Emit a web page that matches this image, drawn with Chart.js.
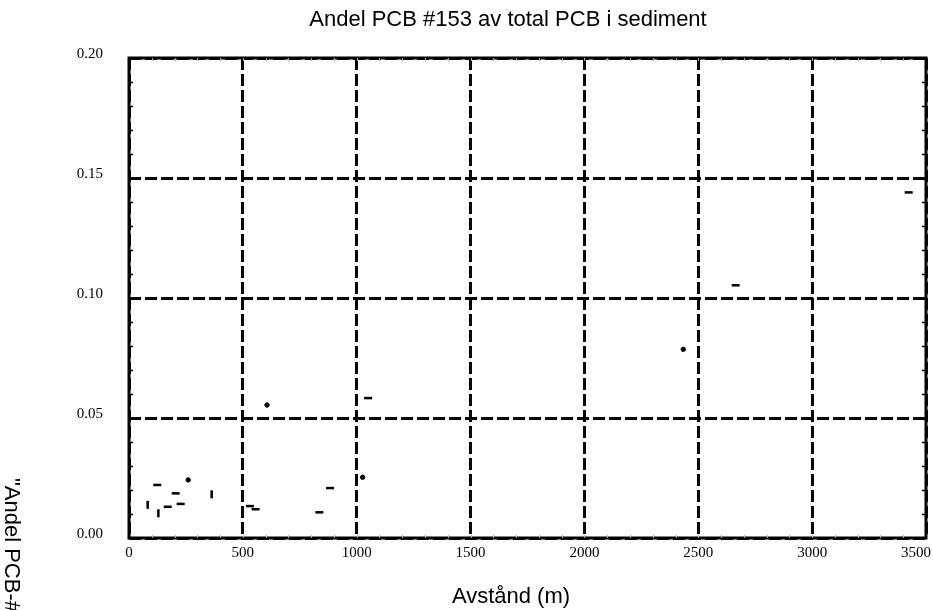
<!DOCTYPE html>
<html>
<head>
<meta charset="utf-8">
<script src="https://cdn.jsdelivr.net/npm/chart.js@4"></script>
<style>
  html, body { margin: 0; padding: 0; background: #fff; }
  #wrap { width: 933px; height: 610px; }
</style>
</head>
<body>
<div id="wrap"><canvas id="chart"></canvas></div>
<script>
// Data
const xTicks = [0, 500, 1000, 1500, 2000, 2500, 3000, 3500];
const yTicks = [0.00, 0.05, 0.10, 0.15, 0.20];

// horizontal dash markers
const dashX = [124, 170, 205, 227, 531, 556, 836, 883, 1050, 2664, 3424];
const dashY = [0.0221, 0.0130, 0.0186, 0.0142, 0.0133, 0.0120, 0.0107, 0.0208, 0.0583, 0.1053, 0.1440];

// vertical dash markers
const barX = [82, 129, 363];
const barY = [0.0138, 0.0103, 0.0182];

// dot markers
const dotX = [260, 606, 1026, 2434];
const dotY = [0.0242, 0.0554, 0.0253, 0.0786];

const title = "Andel PCB #153 av total PCB i sediment";
const xTitle = "Avstånd (m)";
const yTitle = "\"Andel PCB-#153 av total PCB";

const serif = "'Liberation Serif', 'Times New Roman', serif";
const sans = "'Liberation Sans', Arial, sans-serif";

function toPoints(xs, ys) {
  return xs.map((x, i) => ({ x: x, y: ys[i] }));
}

// ram, små skalstreck och texter
const framePlugin = {
  id: "frame",
  afterDatasetsDraw(chart) {
    const { ctx, chartArea: a, scales, width } = chart;
    ctx.save();
    ctx.strokeStyle = "#000";
    ctx.lineWidth = 3;
    ctx.setLineDash([]);
    ctx.strokeRect(a.left, a.top, a.right - a.left, a.bottom - a.top);

    // minor ticks on y (every 0.01)
    ctx.lineWidth = 1.5;
    for (let v = 0.01; v < 0.2; v += 0.01) {
      const y = Math.round(scales.y.getPixelForValue(v)) + 0.5;
      ctx.beginPath();
      ctx.moveTo(a.left, y); ctx.lineTo(a.left + 4, y);
      ctx.moveTo(a.right, y); ctx.lineTo(a.right - 4, y);
      ctx.stroke();
    }
    // minor ticks on x (every 100)
    ctx.strokeStyle = "#aaa";
    ctx.lineWidth = 1;
    for (let v = 100; v < 3500; v += 100) {
      const x = Math.round(scales.x.getPixelForValue(v)) + 0.5;
      ctx.beginPath();
      ctx.moveTo(x, a.top); ctx.lineTo(x, a.top + 3);
      ctx.moveTo(x, a.bottom); ctx.lineTo(x, a.bottom - 3);
      ctx.stroke();
    }

    // x-axelns etiketter, hålls inom bilden
    ctx.fillStyle = "#000";
    ctx.font = "15px " + serif;
    ctx.textAlign = "center";
    ctx.textBaseline = "middle";
    xTicks.forEach((v) => {
      const label = String(v);
      const w = ctx.measureText(label).width;
      let x = scales.x.getPixelForValue(v);
      x = Math.min(x, width - 2 - w / 2);
      ctx.fillText(label, x, a.bottom + 15);
    });

    ctx.font = "22px " + sans;
    ctx.fillText(title, 508, 20);
    ctx.fillText(xTitle, 511, 597);

    // y-axeltitel, roterad
    ctx.translate(11, 478);
    ctx.rotate(Math.PI / 2);
    ctx.textAlign = "left";
    ctx.fillText(yTitle, 0, 0);
    ctx.restore();
  },
};

const gridDash = {
  color: "#000",
  lineWidth: 3,
  drawTicks: false,
};

new Chart(document.getElementById("chart"), {
  type: "scatter",
  data: {
    datasets: [
      {
        label: "streck",
        data: toPoints(dashX, dashY),
        pointStyle: "line",
        radius: 4,
        borderWidth: 2.5,
        borderColor: "#000",
        backgroundColor: "#000",
      },
      {
        label: "staplar",
        data: toPoints(barX, barY),
        pointStyle: "line",
        rotation: 90,
        radius: 4,
        borderWidth: 2.5,
        borderColor: "#000",
        backgroundColor: "#000",
      },
      {
        label: "punkter",
        data: toPoints(dotX, dotY),
        pointStyle: "circle",
        radius: 2.2,
        borderWidth: 1,
        borderColor: "#000",
        backgroundColor: "#000",
      },
    ],
  },
  options: {
    responsive: true,
    maintainAspectRatio: false,
    animation: false,
    layout: { padding: { left: 0, right: 7, top: 58, bottom: 0 } },
    plugins: {
      legend: { display: false },
      tooltip: { enabled: false },
    },
    scales: {
      x: {
        type: "linear",
        min: 0,
        max: 3500,
        afterBuildTicks: (scale) => {
          scale.ticks = xTicks.map((v) => ({ value: v }));
        },
        afterFit: (scale) => {
          scale.height = 72;
          scale.paddingLeft = 0;
          scale.paddingRight = 0;
        },
        grid: gridDash,
        border: { display: false, dash: [12, 4] },
        ticks: { display: false },
      },
      y: {
        type: "linear",
        min: 0,
        max: 0.2,
        afterBuildTicks: (scale) => {
          scale.ticks = yTicks.map((v) => ({ value: v }));
        },
        afterFit: (scale) => {
          scale.width = 129;
        },
        grid: gridDash,
        border: { display: false, dash: [12, 4] },
        ticks: {
          padding: 26,
          labelOffset: -4,
          color: "#000",
          callback: (v) => Number(v).toFixed(2),
          font: { family: serif, size: 15 },
        },
      },
    },
  },
  plugins: [framePlugin],
});
</script>
</body>
</html>
